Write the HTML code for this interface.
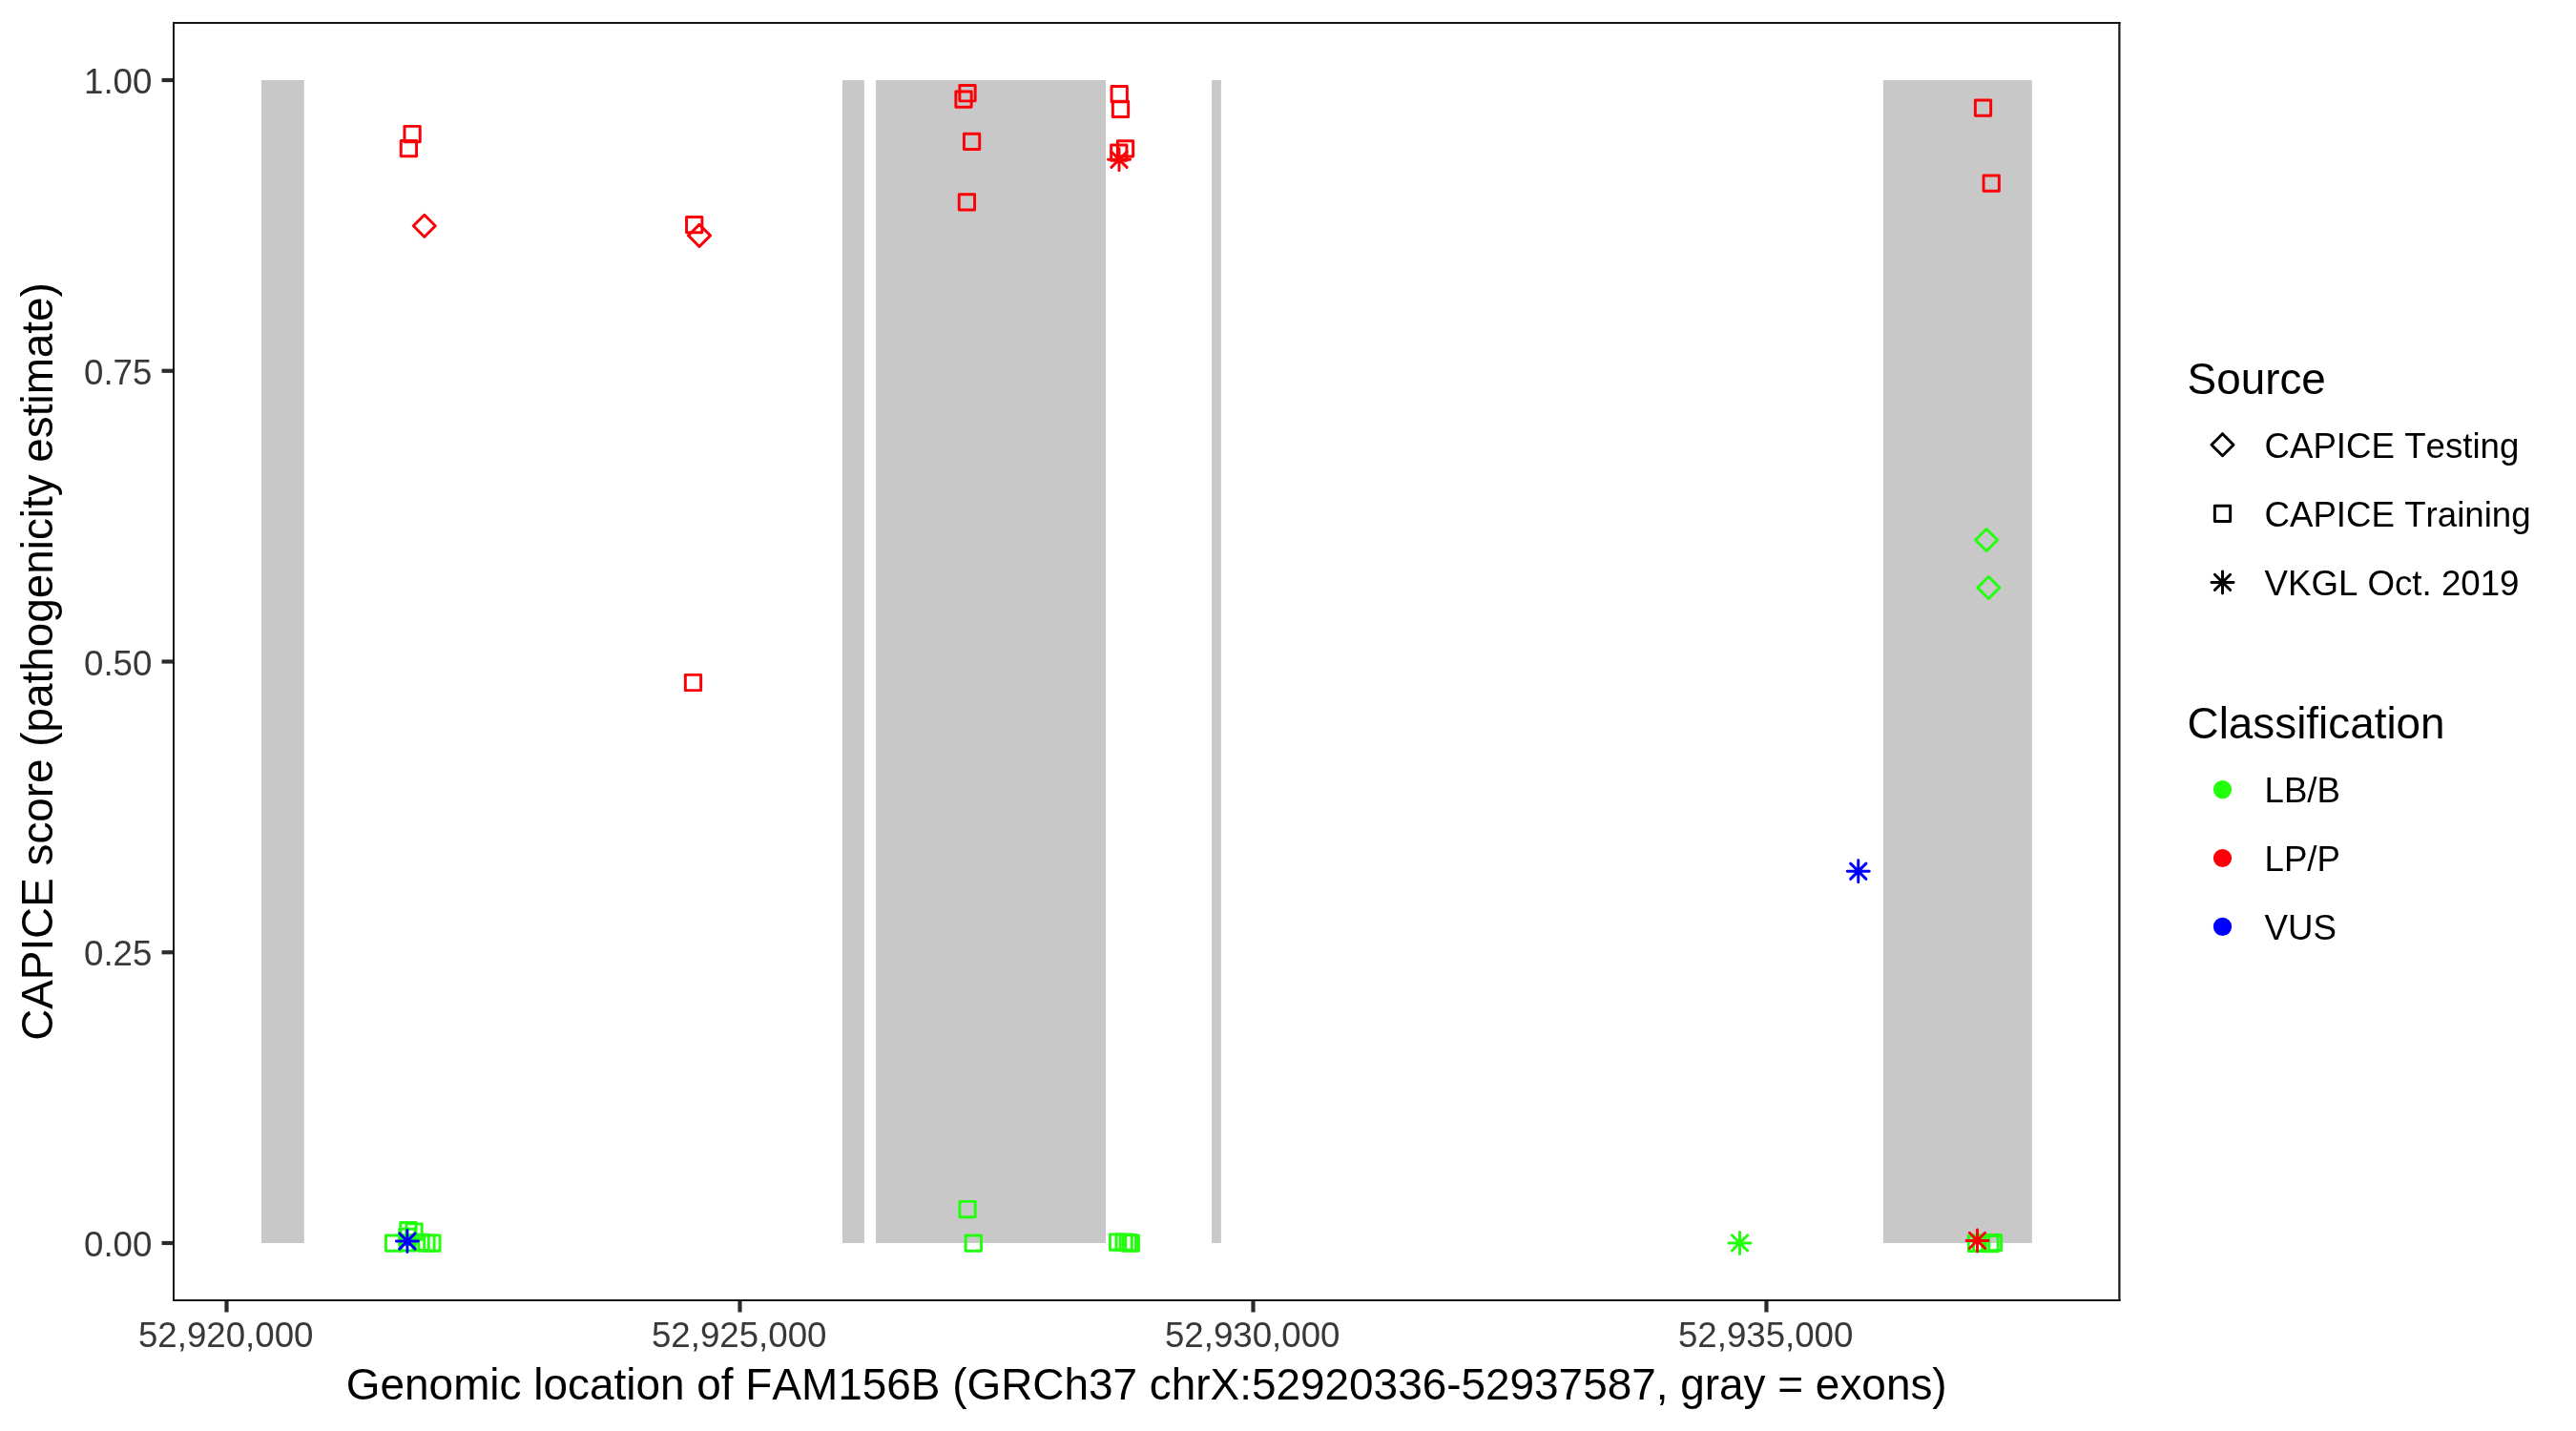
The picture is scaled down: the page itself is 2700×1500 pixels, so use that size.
<!DOCTYPE html>
<html><head><meta charset="utf-8"><style>html,body{margin:0;padding:0;background:#fff;width:2700px;height:1500px;overflow:hidden}svg{display:block;will-change:transform} text{font-kerning:none;font-feature-settings:"kern" 0}</style></head><body>
<svg width="2700" height="1500" viewBox="0 0 2700 1500">
<rect x="0" y="0" width="2700" height="1500" fill="#FFFFFF"/>
<rect x="273.97" y="84.00" width="44.83" height="1219.00" fill="#C8C8C8"/>
<rect x="883.00" y="84.00" width="22.87" height="1219.00" fill="#C8C8C8"/>
<rect x="917.95" y="84.00" width="241.05" height="1219.00" fill="#C8C8C8"/>
<rect x="1270.09" y="84.00" width="9.79" height="1219.00" fill="#C8C8C8"/>
<rect x="1973.84" y="84.00" width="155.96" height="1219.00" fill="#C8C8C8"/>
<polygon points="433.27,236.80 444.80,225.27 456.33,236.80 444.80,248.33" fill="none" stroke="#FC0007" stroke-width="2.95" stroke-linejoin="round"/>
<polygon points="721.47,246.90 733.00,235.37 744.53,246.90 733.00,258.43" fill="none" stroke="#FC0007" stroke-width="2.95" stroke-linejoin="round"/>
<polygon points="2070.57,566.00 2082.10,554.47 2093.63,566.00 2082.10,577.53" fill="none" stroke="#22FF0C" stroke-width="2.95" stroke-linejoin="round"/>
<polygon points="2072.77,616.00 2084.30,604.47 2095.83,616.00 2084.30,627.53" fill="none" stroke="#22FF0C" stroke-width="2.95" stroke-linejoin="round"/>
<rect x="423.95" y="132.35" width="16.30" height="16.30" fill="none" stroke="#FC0007" stroke-width="2.95" stroke-linejoin="round"/>
<rect x="420.25" y="147.45" width="16.30" height="16.30" fill="none" stroke="#FC0007" stroke-width="2.95" stroke-linejoin="round"/>
<rect x="719.55" y="227.45" width="16.30" height="16.30" fill="none" stroke="#FC0007" stroke-width="2.95" stroke-linejoin="round"/>
<rect x="718.35" y="707.35" width="16.30" height="16.30" fill="none" stroke="#FC0007" stroke-width="2.95" stroke-linejoin="round"/>
<rect x="1005.85" y="89.55" width="16.30" height="16.30" fill="none" stroke="#FC0007" stroke-width="2.95" stroke-linejoin="round"/>
<rect x="1001.85" y="95.95" width="16.30" height="16.30" fill="none" stroke="#FC0007" stroke-width="2.95" stroke-linejoin="round"/>
<rect x="1010.45" y="140.25" width="16.30" height="16.30" fill="none" stroke="#FC0007" stroke-width="2.95" stroke-linejoin="round"/>
<rect x="1005.25" y="203.75" width="16.30" height="16.30" fill="none" stroke="#FC0007" stroke-width="2.95" stroke-linejoin="round"/>
<rect x="1165.05" y="90.45" width="16.30" height="16.30" fill="none" stroke="#FC0007" stroke-width="2.95" stroke-linejoin="round"/>
<rect x="1166.35" y="106.15" width="16.30" height="16.30" fill="none" stroke="#FC0007" stroke-width="2.95" stroke-linejoin="round"/>
<rect x="1164.65" y="151.95" width="16.30" height="16.30" fill="none" stroke="#FC0007" stroke-width="2.95" stroke-linejoin="round"/>
<rect x="1171.35" y="147.75" width="16.30" height="16.30" fill="none" stroke="#FC0007" stroke-width="2.95" stroke-linejoin="round"/>
<rect x="2070.35" y="104.95" width="16.30" height="16.30" fill="none" stroke="#FC0007" stroke-width="2.95" stroke-linejoin="round"/>
<rect x="2079.05" y="183.95" width="16.30" height="16.30" fill="none" stroke="#FC0007" stroke-width="2.95" stroke-linejoin="round"/>
<rect x="404.45" y="1294.95" width="16.30" height="16.30" fill="none" stroke="#22FF0C" stroke-width="2.95" stroke-linejoin="round"/>
<rect x="418.95" y="1294.75" width="16.30" height="16.30" fill="none" stroke="#22FF0C" stroke-width="2.95" stroke-linejoin="round"/>
<rect x="419.75" y="1281.55" width="16.30" height="16.30" fill="none" stroke="#22FF0C" stroke-width="2.95" stroke-linejoin="round"/>
<rect x="418.75" y="1288.25" width="16.30" height="16.30" fill="none" stroke="#22FF0C" stroke-width="2.95" stroke-linejoin="round"/>
<rect x="425.85" y="1282.85" width="16.30" height="16.30" fill="none" stroke="#22FF0C" stroke-width="2.95" stroke-linejoin="round"/>
<rect x="432.95" y="1294.15" width="16.30" height="16.30" fill="none" stroke="#22FF0C" stroke-width="2.95" stroke-linejoin="round"/>
<rect x="438.85" y="1294.85" width="16.30" height="16.30" fill="none" stroke="#22FF0C" stroke-width="2.95" stroke-linejoin="round"/>
<rect x="444.75" y="1294.85" width="16.30" height="16.30" fill="none" stroke="#22FF0C" stroke-width="2.95" stroke-linejoin="round"/>
<rect x="1005.92" y="1259.35" width="16.30" height="16.30" fill="none" stroke="#22FF0C" stroke-width="2.95" stroke-linejoin="round"/>
<rect x="1012.15" y="1294.95" width="16.30" height="16.30" fill="none" stroke="#22FF0C" stroke-width="2.95" stroke-linejoin="round"/>
<rect x="1163.45" y="1293.85" width="16.30" height="16.30" fill="none" stroke="#22FF0C" stroke-width="2.95" stroke-linejoin="round"/>
<rect x="1170.05" y="1293.85" width="16.30" height="16.30" fill="none" stroke="#22FF0C" stroke-width="2.95" stroke-linejoin="round"/>
<rect x="1174.15" y="1294.35" width="16.30" height="16.30" fill="none" stroke="#22FF0C" stroke-width="2.95" stroke-linejoin="round"/>
<rect x="1177.15" y="1294.85" width="16.30" height="16.30" fill="none" stroke="#22FF0C" stroke-width="2.95" stroke-linejoin="round"/>
<rect x="2063.35" y="1295.15" width="16.30" height="16.30" fill="none" stroke="#22FF0C" stroke-width="2.95" stroke-linejoin="round"/>
<rect x="2068.45" y="1294.85" width="16.30" height="16.30" fill="none" stroke="#22FF0C" stroke-width="2.95" stroke-linejoin="round"/>
<rect x="2077.85" y="1295.45" width="16.30" height="16.30" fill="none" stroke="#22FF0C" stroke-width="2.95" stroke-linejoin="round"/>
<rect x="2081.30" y="1294.35" width="16.30" height="16.30" fill="none" stroke="#22FF0C" stroke-width="2.95" stroke-linejoin="round"/>
<path d="M1164.85,159.05L1181.15,175.35M1164.85,175.35L1181.15,159.05M1161.47,167.20L1184.53,167.20M1173.00,155.67L1173.00,178.73" fill="none" stroke="#FC0007" stroke-width="2.95" stroke-linecap="round"/>
<path d="M2064.35,1292.25L2080.65,1308.55M2064.35,1308.55L2080.65,1292.25M2060.97,1300.40L2084.03,1300.40M2072.50,1288.87L2072.50,1311.93" fill="none" stroke="#FC0007" stroke-width="2.95" stroke-linecap="round"/>
<path d="M1815.35,1294.75L1831.65,1311.05M1815.35,1311.05L1831.65,1294.75M1811.97,1302.90L1835.03,1302.90M1823.50,1291.37L1823.50,1314.43" fill="none" stroke="#22FF0C" stroke-width="2.95" stroke-linecap="round"/>
<path d="M418.75,1292.85L435.05,1309.15M418.75,1309.15L435.05,1292.85M415.37,1301.00L438.43,1301.00M426.90,1289.47L426.90,1312.53" fill="none" stroke="#0000FF" stroke-width="2.95" stroke-linecap="round"/>
<path d="M1939.60,905.10L1955.90,921.40M1939.60,921.40L1955.90,905.10M1936.22,913.25L1959.28,913.25M1947.75,901.72L1947.75,924.78" fill="none" stroke="#0000FF" stroke-width="2.95" stroke-linecap="round"/>
<rect x="181" y="23" width="2041.5" height="2" fill="#151515"/>
<rect x="181" y="1362" width="2041.5" height="2" fill="#151515"/>
<rect x="181" y="23" width="2" height="1341" fill="#151515"/>
<rect x="2220.3" y="23" width="2.2" height="1341" fill="#151515"/>
<line x1="169.54" y1="1303.00" x2="181.00" y2="1303.00" stroke="#2B2B2B" stroke-width="4.2"/>
<text x="159.37" y="1317.10" text-anchor="end" font-family='"Liberation Sans", sans-serif' font-size="36.67" fill="#383838">0.00</text>
<line x1="169.54" y1="998.25" x2="181.00" y2="998.25" stroke="#2B2B2B" stroke-width="4.2"/>
<text x="159.37" y="1012.35" text-anchor="end" font-family='"Liberation Sans", sans-serif' font-size="36.67" fill="#383838">0.25</text>
<line x1="169.54" y1="693.50" x2="181.00" y2="693.50" stroke="#2B2B2B" stroke-width="4.2"/>
<text x="159.37" y="707.60" text-anchor="end" font-family='"Liberation Sans", sans-serif' font-size="36.67" fill="#383838">0.50</text>
<line x1="169.54" y1="388.75" x2="181.00" y2="388.75" stroke="#2B2B2B" stroke-width="4.2"/>
<text x="159.37" y="402.85" text-anchor="end" font-family='"Liberation Sans", sans-serif' font-size="36.67" fill="#383838">0.75</text>
<line x1="169.54" y1="84.00" x2="181.00" y2="84.00" stroke="#2B2B2B" stroke-width="4.2"/>
<text x="159.37" y="98.10" text-anchor="end" font-family='"Liberation Sans", sans-serif' font-size="36.67" fill="#383838">1.00</text>
<line x1="237.50" y1="1364.00" x2="237.50" y2="1375.46" stroke="#2B2B2B" stroke-width="4.2"/>
<text x="236.70" y="1411.7" text-anchor="middle" font-family='"Liberation Sans", sans-serif' font-size="36.67" fill="#383838">52,920,000</text>
<line x1="775.50" y1="1364.00" x2="775.50" y2="1375.46" stroke="#2B2B2B" stroke-width="4.2"/>
<text x="774.70" y="1411.7" text-anchor="middle" font-family='"Liberation Sans", sans-serif' font-size="36.67" fill="#383838">52,925,000</text>
<line x1="1313.50" y1="1364.00" x2="1313.50" y2="1375.46" stroke="#2B2B2B" stroke-width="4.2"/>
<text x="1312.70" y="1411.7" text-anchor="middle" font-family='"Liberation Sans", sans-serif' font-size="36.67" fill="#383838">52,930,000</text>
<line x1="1851.46" y1="1364.00" x2="1851.46" y2="1375.46" stroke="#2B2B2B" stroke-width="4.2"/>
<text x="1850.66" y="1411.7" text-anchor="middle" font-family='"Liberation Sans", sans-serif' font-size="36.67" fill="#383838">52,935,000</text>
<text x="1201.75" y="1467.1" text-anchor="middle" font-family='"Liberation Sans", sans-serif' font-size="45.92" fill="#000000">Genomic location of FAM156B (GRCh37 chrX:52920336-52937587, gray = exons)</text>
<text transform="translate(54.8,693.50) rotate(-90)" x="0" y="0" text-anchor="middle" font-family='"Liberation Sans", sans-serif' font-size="45.83" fill="#000000">CAPICE score (pathogenicity estimate)</text>
<text x="2292.6" y="412.7" font-family='"Liberation Sans", sans-serif' font-size="45.83" fill="#000000">Source</text>
<polygon points="2317.97,466.20 2329.50,454.67 2341.03,466.20 2329.50,477.73" fill="none" stroke="#000000" stroke-width="2.95" stroke-linejoin="round"/>
<text x="2373.5" y="479.90" font-family='"Liberation Sans", sans-serif' font-size="36.67" fill="#000000">CAPICE Testing</text>
<rect x="2321.35" y="530.15" width="16.30" height="16.30" fill="none" stroke="#000000" stroke-width="2.95" stroke-linejoin="round"/>
<text x="2373.5" y="552.00" font-family='"Liberation Sans", sans-serif' font-size="36.67" fill="#000000">CAPICE Training</text>
<path d="M2321.35,602.25L2337.65,618.55M2321.35,618.55L2337.65,602.25M2317.97,610.40L2341.03,610.40M2329.50,598.87L2329.50,621.93" fill="none" stroke="#000000" stroke-width="2.95" stroke-linecap="round"/>
<text x="2373.5" y="624.10" font-family='"Liberation Sans", sans-serif' font-size="36.67" fill="#000000">VKGL Oct. 2019</text>
<text x="2292.6" y="774.2" font-family='"Liberation Sans", sans-serif' font-size="45.83" fill="#000000">Classification</text>
<circle cx="2329.50" cy="827.60" r="8.15" fill="#22FF0C" stroke="#22FF0C" stroke-width="2.95"/>
<text x="2373.5" y="841.00" font-family='"Liberation Sans", sans-serif' font-size="36.67" fill="#000000">LB/B</text>
<circle cx="2329.50" cy="899.50" r="8.15" fill="#FC0007" stroke="#FC0007" stroke-width="2.95"/>
<text x="2373.5" y="912.90" font-family='"Liberation Sans", sans-serif' font-size="36.67" fill="#000000">LP/P</text>
<circle cx="2329.50" cy="971.40" r="8.15" fill="#0000FF" stroke="#0000FF" stroke-width="2.95"/>
<text x="2373.5" y="984.80" font-family='"Liberation Sans", sans-serif' font-size="36.67" fill="#000000">VUS</text>
</svg>
</body></html>
